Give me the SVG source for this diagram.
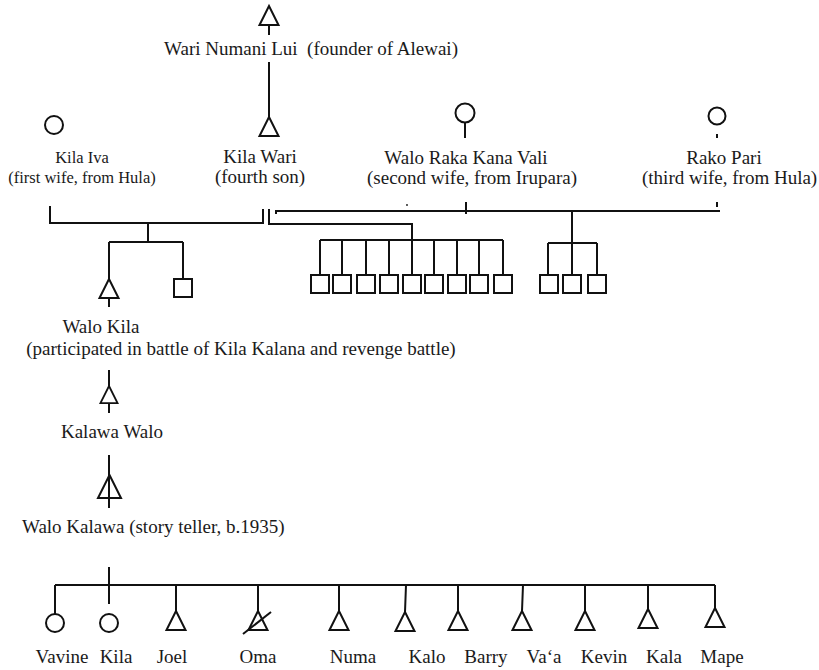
<svg xmlns="http://www.w3.org/2000/svg" width="819" height="670" viewBox="0 0 819 670">
<style>
text{font-family:"Liberation Serif","DejaVu Serif",serif;font-size:19px;fill:#1a1a1a}
.sm{font-size:16.5px}
.c{text-anchor:middle}
.ln{fill:none;stroke:#111;stroke-width:2}
.sym{fill:#fff;stroke:#111;stroke-width:2}
</style>
<defs>
<path id="tri" d="M0,0 L9.5,19 L-9.5,19 Z"/>
<rect id="sq" x="-9" y="0" width="18" height="18"/>
</defs>
<rect width="819" height="670" fill="#fff"/>
<g id="connectors" class="ln">
<path d="M269,25 V35"/>
<path d="M269,62 V118"/>
<path d="M465,123 V138"/>
<path d="M717,134 V138"/>
<path d="M50,206 V223 H263 V209"/>
<path d="M148,223 V242 M109,242 H183 M109,242 V279 M183,242 V279"/>
<path d="M109,297 V307"/>
<path d="M269,209 V224 H412 V240"/>
<path d="M320,240 H503 M320,240 V275 M342,240 V275 M366,240 V275 M389,240 V275 M412,240 V275 M434,240 V275 M457,240 V275 M479,240 V275 M503,240 V275"/>
<path d="M276,214 V211 H720"/>
<path d="M466,202 V214"/>
<path d="M717,202 V207"/>
<path d="M572,211 V243 M548,243 H597 M548,243 V275 M572,243 V275 M597,243 V275"/>
<path d="M109,370 V386 M109,403 V413"/>
<path d="M109,455 V508"/>
<path d="M109,567 V604"/>
<path d="M55,585 H715"/>
<path d="M55,585 V614 M176,585 V611 M258,585 V611 M339,585 V611 M406,585 L405,612 M458,585 V611 M523,585 L522,611 M585,585 V611 M648,585 V609 M715,585 V608"/>
<circle cx="407" cy="205" r="0.9" fill="#111" stroke="none"/>
</g>
<g id="wari-numani-lui">
<use href="#tri" x="269" y="6" class="sym"/>
<text x="311" y="55" class="c" xml:space="preserve">Wari Numani Lui  (founder of Alewai)</text>
</g>
<g id="kila-iva">
<circle cx="54" cy="125" r="9" class="sym"/>
<text x="82" y="163" class="c sm">Kila Iva</text>
<text x="82" y="183" class="c sm">(first wife, from Hula)</text>
</g>
<g id="kila-wari">
<use href="#tri" x="269" y="117" class="sym"/>
<text x="260" y="163" class="c">Kila Wari</text>
<text x="260" y="183" class="c">(fourth son)</text>
</g>
<g id="walo-raka-kana-vali">
<circle cx="465" cy="113" r="9.5" class="sym"/>
<text x="466" y="164" class="c">Walo Raka Kana Vali</text>
<text x="472" y="184" class="c">(second wife, from Irupara)</text>
</g>
<g id="rako-pari">
<circle cx="717" cy="116" r="8.5" class="sym"/>
<text x="724" y="164" class="c">Rako Pari</text>
<text x="642" y="184">(third wife, from Hula)</text>
</g>
<g id="walo-kila">
<use href="#tri" x="109" y="279" class="sym"/>
<text x="101" y="333" class="c">Walo Kila</text>
<text x="241" y="355" class="c">(participated in battle of Kila Kalana and revenge battle)</text>
</g>
<g id="son-square">
<use href="#sq" x="183" y="279" class="sym"/>
</g>
<g id="second-wife-children" class="sym">
<use href="#sq" x="320" y="275"/>
<use href="#sq" x="342" y="275"/>
<use href="#sq" x="366" y="275"/>
<use href="#sq" x="389" y="275"/>
<use href="#sq" x="412" y="275"/>
<use href="#sq" x="434" y="275"/>
<use href="#sq" x="457" y="275"/>
<use href="#sq" x="479" y="275"/>
<use href="#sq" x="503" y="275"/>
</g>
<g id="third-wife-children" class="sym">
<use href="#sq" x="549" y="275"/>
<use href="#sq" x="572" y="275"/>
<use href="#sq" x="597" y="275"/>
</g>
<g id="kalawa-walo">
<use href="#tri" x="109" y="386" class="sym" transform="translate(109 386) scale(0.9) translate(-109 -386)"/>
<text x="112" y="438" class="c">Kalawa Walo</text>
</g>
<g id="walo-kalawa">
<path d="M109.5,475 L121,498 L98,498 Z" class="sym"/>
<path d="M109,475 V508" class="ln"/>
<text x="22" y="533">Walo Kalawa (story teller, b.1935)</text>
</g>
<g id="vavine"><circle cx="55" cy="623" r="9" class="sym"/><text x="62" y="663" class="c">Vavine</text></g>
<g id="kila"><circle cx="109" cy="623" r="9" class="sym"/><text x="116" y="663" class="c">Kila</text></g>
<g id="joel"><use href="#tri" x="176" y="611" class="sym"/><text x="172" y="663" class="c">Joel</text></g>
<g id="oma"><use href="#tri" x="258" y="611" class="sym"/><path d="M243,634 L271,612" class="ln"/><text x="258" y="663" class="c">Oma</text></g>
<g id="numa"><use href="#tri" x="339" y="611" class="sym"/><text x="353" y="663" class="c">Numa</text></g>
<g id="kalo"><use href="#tri" x="405" y="612" class="sym"/><text x="427" y="663" class="c">Kalo</text></g>
<g id="barry"><use href="#tri" x="458" y="611" class="sym"/><text x="486" y="663" class="c">Barry</text></g>
<g id="vaa"><use href="#tri" x="522" y="611" class="sym"/><text x="544" y="663" class="c">Va‘a</text></g>
<g id="kevin"><use href="#tri" x="585" y="611" class="sym"/><text x="604" y="663" class="c">Kevin</text></g>
<g id="kala"><use href="#tri" x="648" y="609" class="sym"/><text x="664" y="663" class="c">Kala</text></g>
<g id="mape"><use href="#tri" x="715" y="608" class="sym"/><text x="722" y="663" class="c">Mape</text></g>
</svg>
